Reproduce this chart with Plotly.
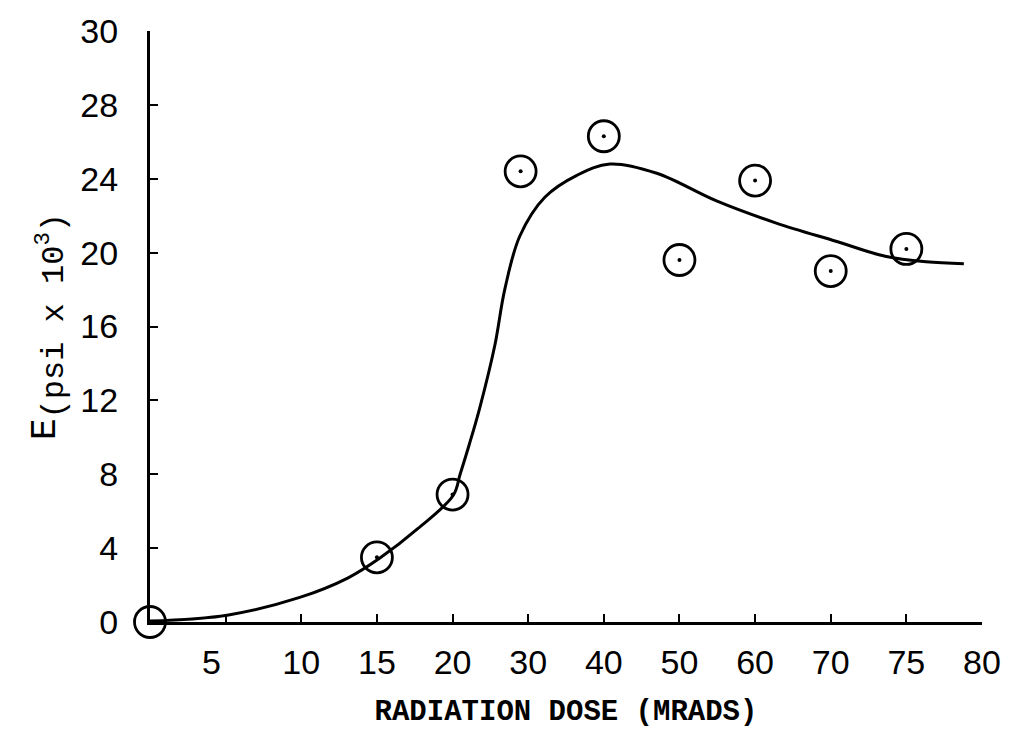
import numpy as np
import plotly.graph_objects as go

# Axis scale: tick doses are drawn evenly spaced on the original chart
dose_ticks = [0, 5, 10, 15, 20, 30, 40, 50, 60, 70, 75, 80]
x_tick_labels = ["5\u00a0\u00a0\u00a0", "10", "15", "20", "30", "40", "50", "60", "70", "75", "80"]
y_tick_vals = [0, 4, 8, 12, 16, 20, 24, 28, 32]
y_tick_labels = ["0", "4", "8", "12", "16", "20", "24", "28", "30"]

# Measured points
dose_pts = [0, 15, 20, 29, 40, 50, 60, 70, 75]
e_pts = [0.0, 3.5, 6.9, 24.4, 26.3, 19.6, 23.9, 19.0, 20.2]

# Hand-drawn fitted curve
curve_dose = [0, 5.1, 9.9, 13.1, 15.2, 17.7, 20.1, 21.0, 22.2, 23.6, 25.6, 26.9, 28.9,
              32.2, 36.5, 40.8, 47.0, 54.9, 62.8, 70.4, 73.6, 76.3, 78.8]
curve_e = [0.05, 0.37, 1.33, 2.39, 3.46, 5.05, 6.86, 8.0, 9.6, 11.6, 15.0, 18.0, 20.9,
           23.0, 24.2, 24.8, 24.3, 22.8, 21.6, 20.6, 19.8, 19.5, 19.4]

positions = np.arange(len(dose_ticks))


def to_pos(d):
    return np.interp(d, dose_ticks, positions)


fig = go.Figure()
fig.add_trace(go.Scatter(
    x=to_pos(curve_dose), y=curve_e, mode="lines",
    line=dict(color="black", width=3, shape="spline", smoothing=1.0),
    hoverinfo="skip", showlegend=False, cliponaxis=False))
fig.add_trace(go.Scatter(
    x=to_pos(dose_pts), y=e_pts, mode="markers",
    marker=dict(symbol="circle-open", size=31, color="black",
                line=dict(width=2.8, color="black")),
    showlegend=False, cliponaxis=False))
fig.add_trace(go.Scatter(
    x=to_pos(dose_pts[1:]), y=e_pts[1:], mode="markers",
    marker=dict(symbol="circle", size=4, color="black"),
    hoverinfo="skip", showlegend=False, cliponaxis=False))

tick_font = dict(family="Liberation Sans", size=34, color="black")
mono = "Liberation Mono"

fig.update_layout(
    width=1013, height=738, autosize=False,
    margin=dict(l=150, r=26, t=20, b=116),
    paper_bgcolor="white", plot_bgcolor="white",
    xaxis=dict(
        range=[0, 11], tickmode="array",
        tickvals=list(positions[1:]), ticktext=x_tick_labels,
        ticks="inside", ticklen=8, tickwidth=2, tickcolor="black",
        showline=True, linecolor="black", linewidth=3,
        showgrid=False, zeroline=False, tickfont=tick_font,
        ticklabelstandoff=8,
        title=dict(text="<b>RADIATION DOSE (MRADS)</b>",
                   font=dict(family=mono, size=29, color="black"), standoff=20),
    ),
    yaxis=dict(
        range=[0, 32], tickmode="array",
        tickvals=y_tick_vals, ticktext=y_tick_labels,
        ticks="inside", ticklen=8, tickwidth=2, tickcolor="black",
        showline=True, linecolor="black", linewidth=3,
        showgrid=False, zeroline=False, tickfont=tick_font,
        ticklabelstandoff=22,
        title=dict(text="E<sub><span style='font-size:32px'>(psi x 10<sup>3</sup>)</span></sub>",
                   font=dict(family=mono, size=36, color="black"), standoff=14),
    ),
)

fig.write_html("out.html")
